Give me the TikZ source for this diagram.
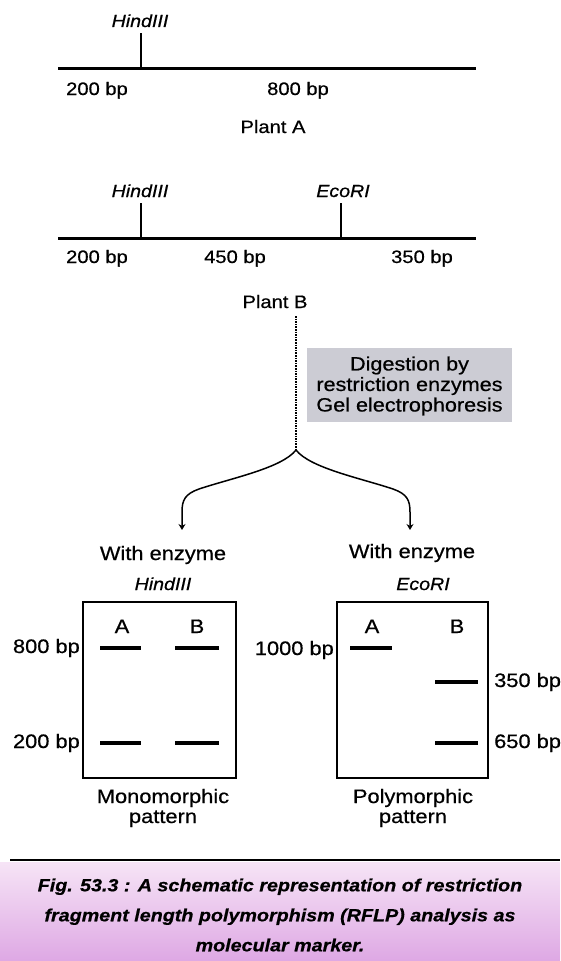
\documentclass[tikz,border=0pt]{standalone}
\usepackage{fontspec}
\setmainfont{Liberation Sans}[FakeStretch=1.12,FakeBold=0.6]
\usetikzlibrary{arrows.meta}
\definecolor{boxgray}{RGB}{204,204,212}
\definecolor{captop}{RGB}{246,228,246}
\definecolor{capbot}{RGB}{222,168,228}
\begin{document}
\begin{tikzpicture}[x=1pt,y=-1pt,
  lbl/.style={font=\fontsize{18}{20}\selectfont, inner sep=0pt, anchor=base},
  big/.style={lbl, font=\fontsize{19.5}{20}\selectfont},
  enz/.style={lbl, font=\fontsize{17.5}{20}\selectfont\itshape},
  dna/.style={line width=3pt},
  cut/.style={line width=1.8pt},
  gelbox/.style={draw, line width=1.5pt, minimum width=153pt, minimum height=176pt, inner sep=0pt},
  band/.style={line width=4.5pt},
  branch/.style={line width=1.5pt, -{Stealth[length=6pt,width=7pt]}},
]
\useasboundingbox (0,0) rectangle (560,961);

% Plant A
\coordinate (a1) at (58,68);
\coordinate (a2) at (476,68);
\coordinate (ah) at (141,68);
\draw[dna] (a1) -- (a2);
\node[enz] (hA) at (140,27) {HindIII};
\draw[cut] (ah) -- (ah |- 0,33);
\node[lbl] (a200) at (97,95) {200 bp};
\node[lbl] (a800) at (298,95) {800 bp};
\node[lbl] (plantA) at (273,133) {Plant A};

% Plant B
\coordinate (b1) at (58,238);
\coordinate (b2) at (476,238);
\coordinate (bh) at (141,238);
\coordinate (be) at (341,238);
\draw[dna] (b1) -- (b2);
\node[enz] (hB) at (140,197) {HindIII};
\node[enz] (eB) at (343,197) {EcoRI};
\draw[cut] (bh) -- (bh |- 0,203);
\draw[cut] (be) -- (be |- 0,203);
\node[lbl] (b200) at (97,263) {200 bp};
\node[lbl] (b450) at (235,263) {450 bp};
\node[lbl] (b350) at (422,263) {350 bp};
\node[lbl] (plantB) at (275,308) {Plant B};

% digestion
\coordinate (j) at (296,450);
\draw[line width=1.6pt, densely dotted] (j |- 0,316) -- (j);
\node[fill=boxgray, minimum width=205pt, minimum height=74pt, inner sep=0pt] (dig) at (409.5,385) {};
\node[lbl, align=center, anchor=center, font=\fontsize{19.3}{20.5}\selectfont] (digt) at (409.5,386)
  {Digestion by\\restriction enzymes\\Gel electrophoresis};

% branches
\node[big] (weL) at (163,560) {With enzyme};
\node[enz] (hL) at (163,590) {HindIII};
\node[big] (weR) at (412,558) {With enzyme};
\node[enz] (eR) at (423,590) {EcoRI};
\draw[branch] (j) .. controls (310,468) and (360,478) .. (393,489)
  .. controls (407,494) and (410,500) .. (410,512) -- (410,530);
\draw[branch] (j) .. controls (282,468) and (232,478) .. (199,489)
  .. controls (185,494) and (182,500) .. (182,512) -- (182,530);

% left gel
\node[gelbox] (gelL) at (159.5,690) {};
\node[big] (LA) at (122,633) {A};
\node[big] (LB) at (197,633) {B};
\draw[band] (100,648) -- (141,648);
\draw[band] (175,648) -- (219,648);
\draw[band] (100,743) -- (141,743);
\draw[band] (175,743) -- (219,743);
\node[big, anchor=base east] (l800) at (80,653) {800 bp};
\node[big, anchor=base east] (l200) at (80,748) {200 bp};
\node[big] (mono1) at (163,803) {Monomorphic};
\node[big] (mono2) at (163,823) {pattern};

% right gel
\node[gelbox, minimum width=151pt] (gelR) at (412.5,690) {};
\node[big] (RA) at (372,633) {A};
\node[big] (RB) at (457,633) {B};
\draw[band] (350,648) -- (392,648);
\draw[band] (435,682) -- (478,682);
\draw[band] (435,743) -- (478,743);
\node[big, anchor=base east] (r1000) at (334,655) {1000 bp};
\node[big, anchor=base west] (r350) at (494,687) {350 bp};
\node[big, anchor=base west] (r650) at (494,748) {650 bp};
\node[big] (poly1) at (413,803) {Polymorphic};
\node[big] (poly2) at (413,823) {pattern};

% caption
\shade[top color=captop, bottom color=capbot] (0,862) rectangle (560,961);
\draw[line width=2.2pt] (10,860) -- (560,860);
\node[inner sep=0pt, align=center, anchor=center, font=\fontsize{17.6}{30}\selectfont\bfseries\itshape] (cap) at (280,915)
  {Fig. 53.3 : A schematic representation of restriction\\
   fragment length polymorphism (RFLP) analysis as\\
   molecular marker.};
\end{tikzpicture}
\end{document}
